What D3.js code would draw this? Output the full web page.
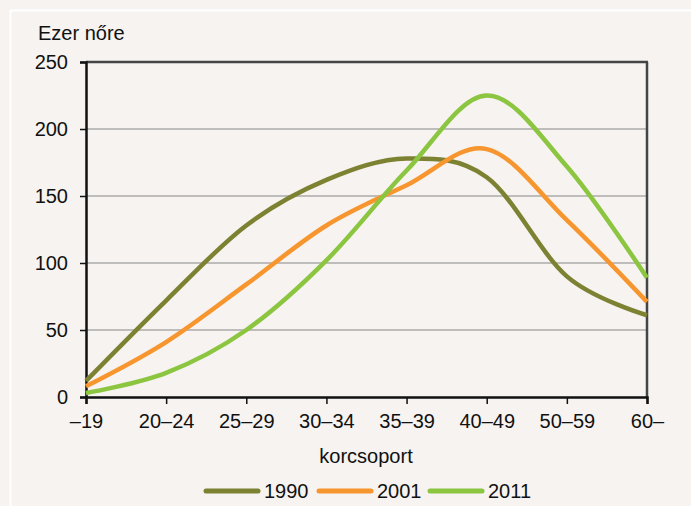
<!DOCTYPE html>
<html>
<head>
<meta charset="utf-8">
<script src="https://cdn.jsdelivr.net/npm/d3@7"></script>
<style>
  body { margin: 0; background: #f6f3f0; }
  svg { display: block; }
  text { font-family: "Liberation Sans Narrow", "Arial Narrow", "Liberation Sans", Arial, sans-serif; fill: #111; }
</style>
</head>
<body>
<svg id="chart" width="691" height="506"></svg>
<script>
var width = 691;
var height = 506;

// korcsoportok
var categories = ['–19', '20–24', '25–29', '30–34', '35–39', '40–49', '50–59', '60–'];
var years = ['1990', '2001', '2011'];
var values1990 = [12, 72, 128, 162, 178, 164, 90, 61];
var values2001 = [8, 41, 84, 128, 158, 185, 132, 71];
var values2011 = [3, 18, 50, 102, 169, 225, 172, 89];
var yTicks = [0, 50, 100, 150, 200, 250];
var colors = ['#7d8232', '#f7962e', '#8cc540'];

var series = [values1990, values2001, values2011];

var plotLeft = 86, plotRight = 647, plotTop = 62, plotBottom = 397;

var svg = d3.select('#chart');

// háttér, fehér keret
svg.append('rect').attr('width', width).attr('height', height).attr('fill', '#f6f3f0');
svg.append('line').attr('x1', 10.5).attr('x2', 10.5).attr('y1', 10).attr('y2', height)
    .attr('stroke', '#fff').attr('stroke-width', 2);
svg.append('line').attr('x1', 10).attr('x2', width).attr('y1', 10.5).attr('y2', 10.5)
    .attr('stroke', '#fff').attr('stroke-width', 2);

var x = d3.scalePoint().domain(categories).range([plotLeft, plotRight]);
var y = d3.scaleLinear().domain([0, 250]).range([plotBottom, plotTop]);

// rácsvonalak
svg.append('g').selectAll('line')
    .data(yTicks.filter(function (d) { return d > 0 && d < 250; }))
    .enter().append('line')
    .attr('x1', plotLeft).attr('x2', plotRight)
    .attr('y1', function (d) { return y(d); })
    .attr('y2', function (d) { return y(d); })
    .attr('stroke', '#ababab').attr('stroke-width', 1.5);

// felső és jobb keret
svg.append('line').attr('x1', plotLeft).attr('x2', plotRight + 1).attr('y1', plotTop).attr('y2', plotTop)
    .attr('stroke', '#454545').attr('stroke-width', 2.5);
svg.append('line').attr('x1', plotRight).attr('x2', plotRight).attr('y1', plotTop).attr('y2', plotBottom)
    .attr('stroke', '#454545').attr('stroke-width', 2.5);

// y tengely
var yAxis = svg.append('g')
    .attr('transform', 'translate(' + plotLeft + ',0)')
    .call(d3.axisLeft(y).tickValues(yTicks).tickSize(6).tickPadding(12));
yAxis.select('.domain').attr('stroke', '#111').attr('stroke-width', 2.5);
yAxis.selectAll('.tick line').attr('stroke', '#111').attr('stroke-width', 1.5);
yAxis.selectAll('.tick text').attr('font-size', 20).attr('font-family', null).attr('fill', '#111');

// x tengely
var xAxis = svg.append('g')
    .attr('transform', 'translate(0,' + plotBottom + ')')
    .call(d3.axisBottom(x).tickSize(7).tickPadding(10));
xAxis.select('.domain').attr('stroke', '#111').attr('stroke-width', 2.5);
xAxis.selectAll('.tick line').attr('stroke', '#111').attr('stroke-width', 1.5);
xAxis.selectAll('.tick text').attr('font-size', 20).attr('font-family', null).attr('fill', '#111');

svg.selectAll('.domain').attr('fill', 'none');

// vonalak
var line = d3.line()
    .x(function (d, i) { return x(categories[i]); })
    .y(function (d) { return y(d); })
    .curve(d3.curveCardinal.tension(0));

svg.append('g').selectAll('path')
    .data(series)
    .enter().append('path')
    .attr('d', line)
    .attr('fill', 'none')
    .attr('stroke', function (d, i) { return colors[i]; })
    .attr('stroke-width', 4.5)
    .attr('stroke-linejoin', 'round');

// feliratok
svg.append('text').attr('x', 38).attr('y', 40).attr('font-size', 20).text('Ezer nőre');
svg.append('text').attr('x', 366).attr('y', 463).attr('font-size', 20)
    .attr('text-anchor', 'middle').text('korcsoport');

// jelmagyarázat
var legendX = [206, 319, 430];
var legend = svg.append('g').selectAll('g')
    .data(years)
    .enter().append('g')
    .attr('transform', function (d, i) { return 'translate(' + legendX[i] + ',491)'; });
legend.append('line')
    .attr('x1', 0).attr('x2', 52).attr('y1', 0).attr('y2', 0)
    .attr('stroke', function (d, i) { return colors[i]; })
    .attr('stroke-width', 5).attr('stroke-linecap', 'round');
legend.append('text')
    .attr('x', 58).attr('y', 7).attr('font-size', 20)
    .text(function (d) { return d; });
</script>
</body>
</html>
